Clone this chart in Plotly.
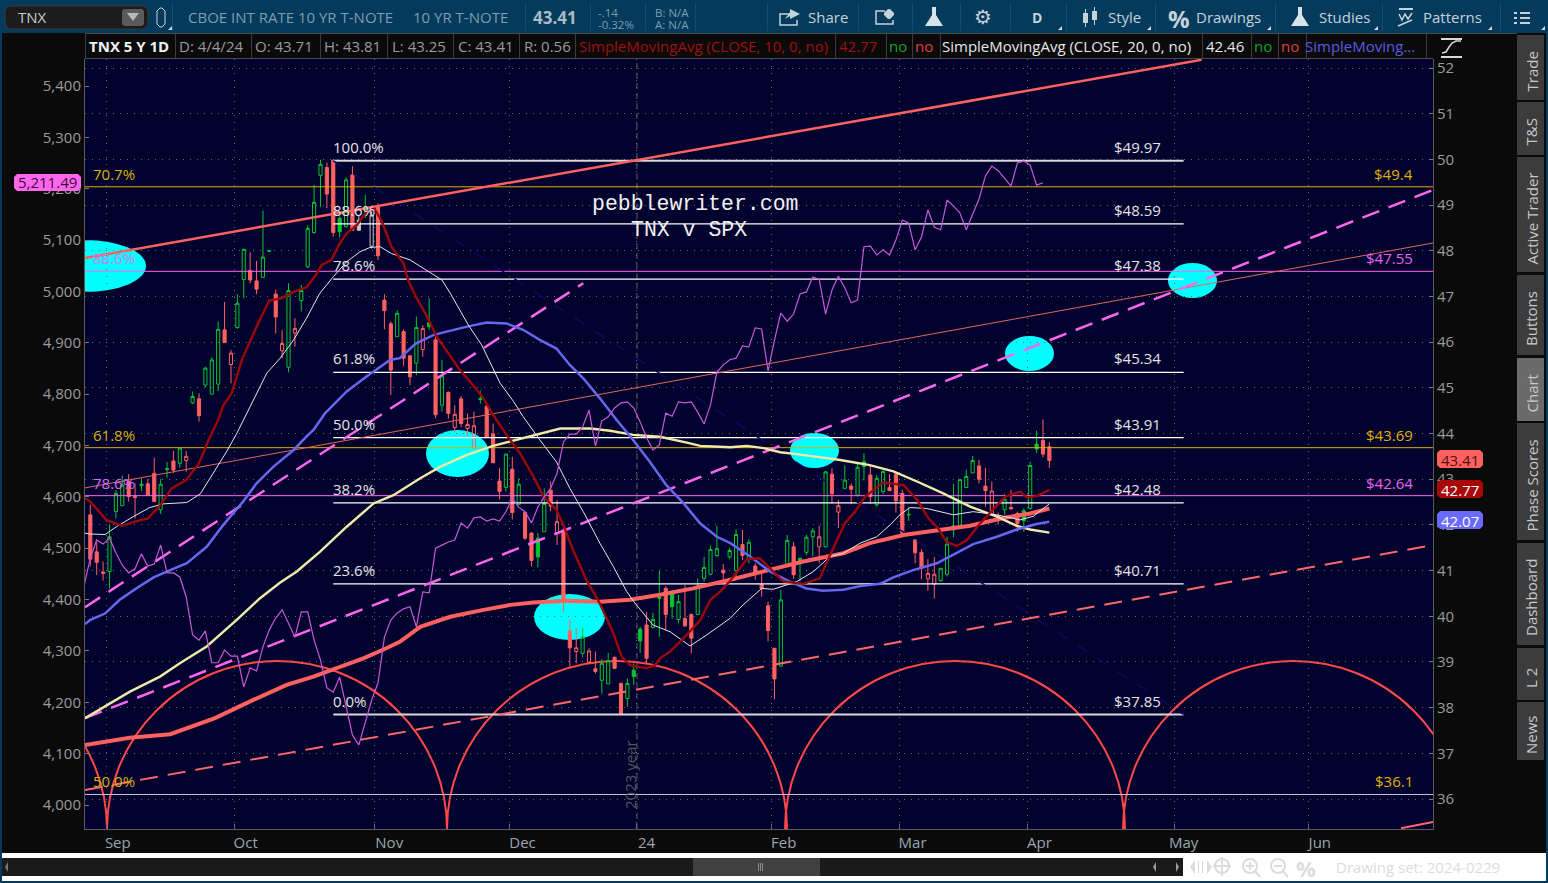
import plotly.graph_objects as go

# ---------- chart data ----------
symbol = "TNX"
month_first_bar = [3, 23, 45, 66, 86, 107, 127, 147, 170, 191]
month_label_bar = [4.3, 24.3, 46.75, 67.6, 87.0, 108.45, 128.6, 148.45, 171.0, 192.3]
month_labels = ["Sep", "Oct", "Nov", "Dec", "24", "Feb", "Mar", "Apr", "May", "Jun"]
tnx_ticks = list(range(36, 53))
spx_ticks = list(range(4000, 5401, 100))

opens = [42.22,41.41,40.97,40.98,42.29,42.42,42.95,42.62,42.86,42.90,43.13,42.33,43.21,43.40,43.35,43.41,
 44.67,44.76,45.06,44.86,45.08,46.27,45.51,46.32,47.37,47.57,47.34,47.42,47.99,47.05,45.81,45.45,46.20,46.91,
 47.65,48.40,49.65,49.82,49.98,48.71,48.53,49.66,48.67,48.96,48.10,48.95,46.92,46.40,46.12,46.23,
 45.70,45.54,45.84,46.43,46.05,44.62,44.90,44.13,44.76,44.11,43.68,44.76,44.60,43.99,42.96,42.82,43.22,42.45,
 42.27,41.82,41.71,41.85,42.76,41.82,41.89,39.68,39.23,39.19,38.99,38.85,38.60,38.52,39.10,38.53,38.20,38.82,
 39.72,39.81,39.75,40.39,40.61,40.49,39.93,39.95,40.04,40.04,40.83,40.92,41.33,41.01,
 41.30,41.00,41.57,41.25,41.10,40.70,40.23,39.30,38.91,41.12,41.52,41.27,41.40,41.74,41.52,41.52,43.11,42.28,
 42.80,42.85,42.65,43.38,43.09,42.44,42.73,42.82,43.11,42.69,42.23,41.67,41.40,40.82,40.70,40.78,40.92,41.89,
 41.98,42.82,43.14,43.29,42.85,42.22,42.19,42.33,42.38,42.25,42.31,42.36,43.77,43.85,43.71]
highs = [42.44,41.63,41.20,42.01,42.76,43.08,43.11,42.91,43.02,43.00,43.47,43.00,43.38,43.62,43.68,43.62,
 44.92,44.88,45.46,45.67,46.45,46.88,45.83,47.05,48.05,47.97,47.78,48.88,48.00,47.15,46.26,47.29,46.52,47.25,
 48.56,49.44,49.99,49.93,50.00,48.75,49.60,49.85,48.78,49.23,48.87,49.04,47.05,46.45,46.70,46.28,
 45.72,46.56,46.37,46.97,46.12,45.61,44.92,44.62,44.82,44.44,44.48,44.94,44.60,44.22,43.24,43.55,43.49,43.02,
 42.29,41.84,41.82,42.80,42.95,42.54,41.92,39.92,39.74,39.74,39.30,39.23,39.06,39.20,39.12,38.55,38.64,38.97,
 39.77,40.10,40.08,41.00,40.66,40.57,40.47,40.68,40.06,40.83,41.30,41.54,41.98,41.14,
 41.50,41.90,41.89,41.69,41.16,40.98,40.32,39.30,40.58,41.78,41.63,41.27,41.78,41.93,41.98,43.18,43.24,42.55,
 43.30,42.91,43.35,43.57,43.30,43.09,43.19,43.11,43.17,42.77,42.39,41.69,41.47,41.25,41.30,41.05,41.74,42.90,
 43.00,43.21,43.51,43.42,43.25,42.95,42.27,42.68,42.77,42.29,42.36,43.38,44.06,44.31,43.81]
lows = [41.09,40.90,40.78,40.61,42.14,42.42,42.51,42.14,42.74,42.65,42.51,42.24,43.03,43.14,43.25,43.16,
 44.64,44.26,45.01,44.86,44.93,45.99,45.10,46.29,46.96,47.29,47.05,47.42,47.98,46.19,45.65,45.34,45.90,46.67,
 47.62,48.37,48.96,48.93,48.31,48.29,48.51,48.45,48.45,48.71,48.05,47.80,46.28,44.84,46.12,45.48,
 45.06,45.28,45.68,46.27,44.33,44.48,44.33,44.04,44.14,43.95,43.68,44.65,43.92,43.36,42.56,42.73,42.12,42.45,
 41.67,41.09,41.07,41.85,42.30,41.56,40.10,38.90,38.97,39.10,38.97,38.75,38.31,38.52,38.84,37.85,38.02,38.50,
 39.20,38.97,39.75,39.55,39.70,39.95,39.85,39.77,39.19,40.04,40.76,40.90,41.30,40.76,
 41.25,40.87,41.23,41.16,40.80,40.43,39.45,38.18,38.90,41.12,40.82,40.76,41.34,41.31,41.16,41.52,42.47,41.93,
 42.78,42.45,42.62,42.97,42.46,42.40,42.67,42.75,42.27,41.78,42.09,41.16,40.81,40.56,40.39,40.76,40.87,41.73,
 41.97,42.82,43.13,42.91,42.40,42.22,42.01,42.22,42.35,41.85,41.85,42.34,43.57,43.48,43.25]
closes = [41.25,41.18,40.94,41.74,42.69,42.87,42.62,42.60,42.89,42.65,42.51,42.89,43.23,43.20,43.68,43.50,
 44.81,44.39,45.43,45.61,46.28,45.99,45.76,46.85,48.03,47.36,47.16,47.86,48.00,46.55,45.97,47.13,46.30,47.13,
 48.49,49.06,49.89,49.24,48.40,48.42,49.55,48.45,48.45,48.90,48.78,47.89,46.69,45.39,46.63,45.65,
 45.24,46.32,46.30,46.34,44.41,45.26,44.44,44.42,44.22,44.20,44.17,44.75,43.92,43.36,42.73,43.55,42.27,42.89,
 41.71,41.22,41.30,42.47,42.41,42.07,40.36,39.31,39.31,39.55,39.24,38.79,38.97,39.03,38.86,37.87,38.53,38.68,
 39.46,39.08,39.93,40.41,40.04,40.21,40.32,39.79,39.52,40.67,41.07,41.46,41.48,40.95,
 41.44,41.79,41.33,41.62,40.94,40.60,39.69,38.63,40.36,41.66,40.91,41.15,41.73,41.87,41.74,43.16,42.68,42.42,
 42.98,42.78,43.26,43.28,42.62,43.02,43.17,42.75,42.53,41.82,42.22,41.39,41.05,40.94,40.92,41.05,41.58,41.98,
 42.99,43.06,43.41,43.00,42.75,42.74,42.17,42.56,42.35,42.03,42.09,43.30,43.66,43.55,43.41]
# bars whose body style is the other way round (red hollow / green filled), and unchanged-close bars
reverse_bars = [15,22,30,32,39,43,52,53,57,59,60,61,70,73,76,78,85,86,91,111,114,117,121,128,131,132,141,146,148]
flat_bars = [42,44]

sma10_bar = [-0.83,0,2.5,5,7,9,11,12.7,15,17,18.5,20,20.8,22.1,23.8,25.1,26.5,28,29.9,31.8,33.8,35.1,36.2,37.7,39,40.1,41.7,43,44.5,45.6,47.1,49,49.7,50.9,52.4,54.2,56.3,57.6,59.6,61.5,63,65.1,67.2,69.3,70.9,72.9,73.9,75.5,77.6,79.7,81.8,83.1,84.4,87,88.3,89.1,90.7,92.8,95.4,97,98.5,100,101,102.7,104.7,106.6,108.4,111.5,114.1,115.7,118,119.6,121.2,124,127.2,129.3,131.1,132.6,133.9,135.5,137.1,139.2,141.3,143.1,145.4,146.5,148,150]
sma10_val = [42.58,42.51,42.11,41.98,42.07,42.14,42.44,42.80,42.98,43.35,43.86,44.30,44.62,44.88,45.65,46.05,46.49,46.91,46.96,47.10,47.20,47.43,47.69,47.80,48.16,48.38,48.56,48.82,48.91,48.64,48.09,47.72,47.36,47.00,46.63,46.12,45.68,45.43,45.10,44.77,44.41,43.97,43.57,43.06,42.62,42.33,42.03,41.45,40.79,40.28,39.63,39.12,38.93,38.86,38.93,39.08,39.23,39.52,39.92,40.36,40.54,40.76,40.94,41.25,41.27,41.01,40.76,40.71,40.83,41.34,42.03,42.29,42.62,42.93,42.87,42.55,42.14,41.93,41.63,41.54,41.67,42.04,42.36,42.62,42.73,42.60,42.63,42.77]

sma20_bar = [-0.83,0,2.3,4.1,6.7,9.3,11.4,15.1,17.2,19.2,21.3,22.9,24.5,26,27.6,29.7,31.8,33.8,35.9,38,40.1,42.2,43.7,45.3,47.1,50,55,56.3,59.1,61.2,63,64.1,66.2,67.7,70.3,72.9,75,77.1,79.7,81.8,83.9,85,88,90.7,93.8,96.4,100.1,102.1,105,106.8,110.5,113.1,115.7,117.8,120.4,123,125.1,126.6,128.2,130.8,135,138.1,141.8,145.4,147.5,150]
sma20_val = [41.82,41.80,41.79,41.96,42.18,42.38,42.46,42.49,42.68,43.13,43.60,44.00,44.44,44.88,45.32,45.65,46.05,46.52,47.07,47.43,47.76,47.98,48.07,48.09,47.94,47.80,47.36,47.07,46.38,45.94,45.43,45.10,44.70,44.37,43.86,43.38,42.80,42.29,41.60,41.09,40.54,40.32,39.81,39.66,39.35,39.59,39.96,40.25,40.61,40.59,40.76,40.98,41.31,41.38,41.60,41.74,42.00,42.22,42.38,42.36,42.22,42.29,42.22,42.11,42.19,42.46]

sma50_bar = [-0.83,0,2.3,4.6,7.2,9.9,12.5,15.1,18.2,20.8,23.9,26,28.6,31.8,33.8,34.9,36.7,40.1,43.2,46.9,48.4,50.9,53.7,56.3,58.9,62,65.1,67.7,70.3,72.9,75,77.1,79.7,82.3,84.9,87.5,90.1,92.8,95.4,98,100.1,103.2,106.3,109.4,112,114.6,117.8,120.4,123.5,125.6,128.7,132.4,135.5,138.1,141.8,144.9,148,150]
sma50_val = [39.83,39.92,40.06,40.36,40.61,40.85,41.01,41.16,41.52,42.00,42.51,42.91,43.27,43.64,43.93,44.08,44.44,44.92,45.25,45.61,45.65,45.97,46.16,46.25,46.34,46.43,46.41,46.27,46.05,45.86,45.50,45.21,44.77,44.30,43.86,43.38,42.87,42.47,42.03,41.74,41.60,41.31,40.98,40.76,40.61,40.56,40.58,40.66,40.71,40.85,41.01,41.16,41.38,41.58,41.74,41.90,42.02,42.07]

sma100_bar = [-0.83,0,6.2,10.9,14,18.2,22.9,26.5,29.7,32.3,35.9,40.1,44.3,47.4,51.6,54.7,58.9,63,66.7,69.8,73.5,78.2,81.3,84.9,89.1,93.3,95.4,100.1,102.7,105.3,107.9,110.5,113.6,117.3,121.9,125.6,129.3,133.4,137.6,141.8,144.9,147,150]
sma100_val = [37.77,37.84,38.35,38.68,38.97,39.34,39.92,40.39,40.74,40.98,41.41,41.96,42.47,42.65,43.02,43.27,43.53,43.73,43.86,43.97,44.11,44.11,44.06,43.97,43.93,43.80,43.73,43.70,43.73,43.68,43.59,43.55,43.49,43.42,43.31,43.17,42.95,42.69,42.40,42.18,41.98,41.90,41.83]

sma200_bar = [-0.83,0,6.2,12.5,19.5,25.5,30.7,34.9,38,42.7,46.3,48.4,51.6,56.3,61.5,65.7,69.3,74.5,79.7,84.4,89.1,94.3,100.1,106.3,111.5,117.8,121.9,127.2,132.4,137.6,142.8,147,150]
sma200_val = [37.18,37.20,37.34,37.42,37.77,38.17,38.50,38.68,38.83,39.08,39.30,39.44,39.77,39.99,40.14,40.25,40.30,40.34,40.32,40.36,40.47,40.61,40.80,41.01,41.20,41.38,41.60,41.78,41.88,41.98,42.15,42.25,42.36]

spx_close = [4425,4481,4516,4508,4520,4491,4467,4452,4460,4489,4465,4469,4506,4452,4452,4444,4405,4331,4321,4339,4277,4277,4302,4290,4290,4230,4267,4261,4308,4341,4364,4380,4354,4327,4376,4376,4321,4282,4228,4220,4249,4193,4136,4117,4162,4204,4238,4327,4360,4374,4382,
 4386,4347,4415,4413,4500,4506,4512,4516,4549,4539,4559,4561,4553,4557,4553,4571,4598,4580,4571,4549,4580,4600,4617,4646,4707,4722,4722,4736,4769,4699,4748,4756,4773,4783,4785,4773,4746,4715,4691,4701,4763,4757,4785,4783,4785,4765,4742,4779,4843,4857,
 4867,4870,4894,4892,4929,4927,4845,4905,4958,4942,4956,4995,4999,5028,5024,4956,5003,5030,5007,4978,4983,5087,5088,5071,5081,5071,5100,5139,5133,5081,5106,5159,5125,5120,5178,5166,5153,5120,5149,5180,5225,5244,5235,5221,5205,5250,5254,5246,5207,5211.49]

fib_pct = ["100.0%", "88.6%", "78.6%", "61.8%", "50.0%", "38.2%", "23.6%", "0.0%"]
fib_level = [49.97, 48.59, 47.38, 45.34, 43.91, 42.48, 40.71, 37.85]

target_level = [49.4, 47.55, 43.69, 42.64, 36.1]
target_pct = ["70.7%", "88.6%", "61.8%", "78.6%", "50.0%"]
target_text = ["$49.4", "$47.55", "$43.69", "$42.64", "$36.1"]

trend_bars = [-0.83, 210]
trend_thin = [42.81, 48.17]
trend_up_bars = [-0.83, 173.8]
trend_up = [47.84, 52.18]
dash_upper_bars = [-0.83, 77.1]
dash_upper = [40.20, 47.29]
dash_lower = [37.77, 49.33]
dash_floor = [36.20, 41.56]
dash_corner_bars = [205, 210]
dash_corner = [35.36, 35.50]
diag_bars = [38, 171]
diag_vals = [49.97, 37.85]

# ---------- page geometry ----------
W, H = 1548, 883
LEFT, RIGHT, TOP, BOTTOM = 85, 1433, 59, 829
X_RANGE = [-0.83, 210]
Y_TOP, Y_BOT = 52 - (TOP - 68) / 45.69, 52 - (BOTTOM - 68) / 45.69
S_TOP, S_BOT = 5400 + (86 - TOP) / 0.51357, 4000 - (BOTTOM - 805) / 0.51357

def fx(x): return x / W
def fy(y): return 1 - y / H
def bar_at(px): return X_RANGE[0] + (px - LEFT) * (X_RANGE[1] - X_RANGE[0]) / (RIGHT - LEFT)
def tnx_at(py): return 52 - (py - 68) / 45.69

shapes, notes = [], []

def rect(x0, y0, x1, y1, fill, line=None, layer="below", lw=1):
    shapes.append(dict(type="rect", xref="paper", yref="paper", x0=fx(x0), x1=fx(x1), y0=fy(y1), y1=fy(y0),
                       fillcolor=fill, line=dict(color=line or fill, width=lw if line else 0), layer=layer))

def poly(points, fill=None, line=None, lw=1.5, close=True, layer="above"):
    d = "M" + " L".join(f"{fx(a):.5f} {fy(b):.5f}" for a, b in points) + (" Z" if close else "")
    shapes.append(dict(type="path", xref="paper", yref="paper", path=d, fillcolor=fill or "rgba(0,0,0,0)",
                       line=dict(color=line or "rgba(0,0,0,0)", width=lw if line else 0), layer=layer))

def rrect(x0, y0, x1, y1, r, fill, line=None, layer="above"):
    pts = [(x0 + r, y0), (x1 - r, y0), (x1, y0 + r), (x1, y1 - r), (x1 - r, y1), (x0 + r, y1), (x0, y1 - r), (x0, y0 + r)]
    poly(pts, fill=fill, line=line, lw=1, layer=layer)

def text(x, y, s, color="#a0a0a0", size=15, anchor="left", bold=False, font="Open Sans", angle=0, bg=None):
    notes.append(dict(xref="paper", yref="paper", x=fx(x), y=fy(y), text=f"<b>{s}</b>" if bold else s, showarrow=False,
                      xanchor=anchor, yanchor="middle", textangle=angle, borderpad=0,
                      font=dict(family=font, size=size, color=color), bgcolor=bg))

# ---------- window chrome ----------
BAR = "#043a5c"
DARK = "#0a0a0a"
rect(0, 0, W, 33, BAR)
rect(0, 33, 2, H, BAR)
rect(1546, 0, W, H, BAR)
rect(0, 880, W, H, BAR)
rect(2, 34, 1517, 59, DARK, layer="below")
rect(2, 853, 1546, 881, "#ffffff")
rect(2, 858, 1183, 876, "#1a1a1a")
rect(693, 858, 820, 876, "#404040")
for xa in (758, 760, 762):
    rect(xa, 863, xa + 1, 871, "#8a8a8a")
poly([(5, 867), (8, 862), (8, 872)], fill="#777777")
poly([(1153, 867), (1156, 862), (1156, 872)], fill="#9a9a9a")
poly([(1176, 862), (1179, 867), (1176, 872)], fill="#9a9a9a")

# combo box
rrect(5, 6, 148, 29, 4, "#1c1c1c", "#3a3a3a")
rrect(122, 9, 144, 26, 2, "#5a5a5a")
poly([(127, 13), (139, 13), (133, 21)], fill="#b8b8b8")
text(17, 17.5, symbol, color="#c8c8c8")
rrect(157, 8, 165, 27, 3, "rgba(0,0,0,0)", "#c8d4dc")
for xd in (172, 525, 590, 645, 695, 767, 858, 912, 960, 1010, 1066, 1155, 1275, 1382, 1500):
    rect(xd, 3, xd + 1, 31, "#0e4f78")
text(187, 17.5, "CBOE INT RATE 10 YR T-NOTE", color="#7e9db0")
text(412, 17.5, "10 YR T-NOTE", color="#7e9db0")
text(532, 17.5, "43.41", color="#a9bcc6", size=17, bold=True)
text(597, 12, "-.14", color="#7e9db0", size=11.5)
text(597, 24, "-0.32%", color="#7e9db0", size=11.5)
text(654, 12, "B: N/A", color="#7e9db0", size=11.5)
text(654, 24, "A: N/A", color="#7e9db0", size=11.5)

TOOL = "#c4d2da"
text(807, 17.5, "Share", color=TOOL)
text(1107, 17.5, "Style", color=TOOL)
text(1195, 17.5, "Drawings", color=TOOL)
text(1318, 17.5, "Studies", color=TOOL)
text(1422, 17.5, "Patterns", color=TOOL)
text(1037, 17.5, "D", color=TOOL, size=14, anchor="center", bold=True)
text(1179, 18, "%", color=TOOL, size=24, anchor="center", bold=True)
text(983, 17, "\u2699", color=TOOL, size=20, anchor="center", font="DejaVu Sans")
# share icon
poly([(792, 14), (780, 14), (780, 25), (797, 25), (797, 20)], line=TOOL, close=False)
poly([(785, 19), (790, 12), (790, 9), (800, 14), (790, 19), (790, 16)], fill=TOOL)
# info icon
poly([(885, 11), (876, 11), (876, 24), (893, 24), (893, 20)], line=TOOL, close=False)
rrect(884, 9, 894, 19, 4, TOOL)
# flasks
for cx, fillc in ((934, "#d8e2e8"), (1300, "#d8e2e8")):
    poly([(cx - 2, 7), (cx + 2, 7), (cx + 2, 15), (cx + 9, 26), (cx - 9, 26), (cx - 2, 15)], fill=fillc)
# style icon
rect(1083, 13, 1088, 23, TOOL, layer="above"); rect(1085, 9, 1086, 27, TOOL, layer="above")
rect(1092, 11, 1097, 20, TOOL, layer="above"); rect(1094, 7, 1095, 25, TOOL, layer="above")
# patterns icon
rect(1399, 8, 1413, 10, TOOL, layer="above")
poly([(1399, 14), (1402, 20), (1405, 14), (1408, 19), (1412, 13)], line=TOOL, close=False)
poly([(1398, 26), (1412, 20)], line=TOOL, close=False)
# menu icon
for yy in (12, 17, 22):
    rect(1514, yy, 1517, yy + 2, TOOL, layer="above")
    rect(1520, yy, 1530, yy + 2, TOOL, layer="above")
for xc in (1062, 1151, 1271, 1378, 1492, 1545):
    poly([(xc - 4, 30), (xc, 30), (xc, 26)], fill="#d0dbe2")
poly([(172, 30), (168, 30), (172, 26)], fill="#d0dbe2")

# study legend row
rect(85, 33, 1517, 34, "#4a4a4a")
rect(85, 58, 1433, 59, "#4a4a4a")
for xd in (85, 175, 251, 320, 387, 453, 519, 575, 835, 886, 912, 940, 1202, 1251, 1278, 1306, 1426):
    rect(xd, 34, xd + 1, 58, "#3c3c3c")
text(88, 46, "TNX 5 Y 1D", color="#f0f0f0", bold=True)
for xt, s in ((178, "D: 4/4/24"), (254, "O: 43.71"), (323, "H: 43.81"), (391, "L: 43.25"), (457, "C: 43.41"), (523, "R: 0.56")):
    text(xt, 46, s, color="#9a9a9a")
text(578, 46, "SimpleMovingAvg (CLOSE, 10, 0, no)", color="#a01010")
text(838, 46, "42.77", color="#a01010")
text(888, 46, "no", color="#10a030")
text(914, 46, "no", color="#e04040")
text(941, 46, "SimpleMovingAvg (CLOSE, 20, 0, no)", color="#e8e8e8")
text(1205, 46, "42.46", color="#e8e8e8")
text(1253, 46, "no", color="#10a030")
text(1280, 46, "no", color="#e04040")
text(1304, 46, "SimpleMoving...", color="#5a5ae0")
rect(1441, 38, 1462, 40, "#d8d8d8", layer="above")
rect(1441, 56, 1462, 58, "#d8d8d8", layer="above")
poly([(1442, 53), (1446, 52), (1449, 47), (1452, 43), (1456, 41), (1461, 41)], line="#d8d8d8", close=False)

# side tabs
for (y0, y1, label, on) in ((35, 100, "Trade", 0), (102, 155, "T&S", 0), (157, 272, "Active Trader", 0),
                            (275, 355, "Buttons", 0), (358, 421, "Chart", 1), (423, 540, "Phase Scores", 0),
                            (543, 645, "Dashboard", 0), (648, 700, "L 2", 0), (702, 760, "News", 0)):
    rect(1517, y0, 1544, y1, "#6a6a6a" if on else "#3c3c3c")
    text(1531, (y0 + y1) / 2 + 4, label, color="#c8c8c8", anchor="center", angle=-90)

# bottom tools
text(1335, 867, "Drawing set: 2024-0229", color="#dcdcdc")
ICON = "#dcdcdc"
poly([(1190, 867), (1195, 860), (1195, 874)], fill=ICON)
poly([(1212, 867), (1207, 860), (1207, 874)], fill=ICON)
rect(1198, 861, 1199, 873, ICON, layer="above")
rect(1202, 861, 1203, 873, ICON, layer="above")
for cx in (1222, 1250, 1278):
    shapes.append(dict(type="circle", xref="paper", yref="paper", x0=fx(cx - 7), x1=fx(cx + 7), y0=fy(873), y1=fy(859),
                       line=dict(color=ICON, width=2), layer="above"))
rect(1213, 865, 1231, 867, ICON, layer="above")
rect(1221, 857, 1223, 876, ICON, layer="above")
for cx in (1250, 1278):
    poly([(cx + 5, 871), (cx + 10, 877)], line=ICON, lw=2, close=False)
    rect(cx - 4, 865, cx + 4, 867, ICON, layer="above")
rect(1249, 862, 1251, 870, ICON, layer="above")
text(1306, 868, "%", color=ICON, size=22, anchor="center", bold=True)

# ---------- drawings on the price scale ----------
def data_ellipse(x0, y0, x1, y1, line=None, fill=None, lw=0):
    shapes.append(dict(type="circle", xref="x", yref="y", x0=bar_at(x0), x1=bar_at(x1), y0=tnx_at(y1), y1=tnx_at(y0),
                       fillcolor=fill or "rgba(0,0,0,0)", line=dict(color=line or "rgba(0,0,0,0)", width=lw), layer="below"))

for box in ((24, 240, 146, 292), (426, 430, 489, 477), (534, 594, 605, 640),
            (790, 433, 839, 468), (1005, 336, 1054, 371), (1168, 263, 1217, 298)):
    data_ellipse(*box, fill="#00ffff")
for cx in (-63, 277, 617, 955, 1293):
    data_ellipse(cx - 170, 661, cx + 170, 997, line="#ff4848", lw=2)

shapes.append(dict(type="line", xref="x", yref="paper", x0=85.5, x1=85.5, y0=fy(BOTTOM), y1=fy(TOP),
                   line=dict(color="#5c5c66", width=1, dash="6px,4px"), layer="below"))
notes.append(dict(xref="x", yref="paper", x=bar_at(630), y=fy(775), text="2023 year", showarrow=False, textangle=-90,
                  xanchor="center", yanchor="middle", borderpad=0, font=dict(family="Open Sans", size=15, color="#55555f")))

fib_label_bar = bar_at(332)
fib_price_bar = bar_at(1113)
for pct, lvl in zip(fib_pct, fib_level):
    notes.append(dict(xref="x", yref="y", x=fib_label_bar, y=lvl, yshift=14, text=pct, showarrow=False, xanchor="left",
                      yanchor="middle", borderpad=0, font=dict(family="Open Sans", size=15, color="#e4e4e4")))
    notes.append(dict(xref="x", yref="y", x=fib_price_bar, y=lvl, yshift=14, text=f"${lvl:.2f}", showarrow=False, xanchor="left",
                      yanchor="middle", borderpad=0, font=dict(family="Open Sans", size=15, color="#e4e4e4")))

target_colors = ["#e0b000", "#e864f0", "#e0b000", "#e864f0", "#e0b000"]
target_left_colors = ["#d8b000", "#d080f0", "#d8b000", "#d070f0", "#d8b000"]
left_label_bar = bar_at(92)
right_label_bar = bar_at(1414)
for lvl, pct, price, c, lc in zip(target_level, target_pct, target_text, target_colors, target_left_colors):
    notes.append(dict(xref="x", yref="y", x=left_label_bar, y=lvl, yshift=13, text=pct, showarrow=False, xanchor="left",
                      yanchor="middle", borderpad=0, font=dict(family="Open Sans", size=15, color=lc)))
    notes.append(dict(xref="x", yref="y", x=right_label_bar, y=lvl, yshift=13, text=price, showarrow=False, xanchor="right",
                      yanchor="middle", borderpad=0, font=dict(family="Open Sans", size=15, color=c)))

text(695, 204, "pebblewriter.com", color="#f0f0f0", size=21.5, anchor="center", font="Liberation Mono")
text(689, 230, "TNX v SPX", color="#f0f0f0", size=21.5, anchor="center", font="Liberation Mono")

# badges
rrect(14, 174, 81, 191, 3, "#ff66ee")
text(47.5, 182.5, "5,211.49", color="#3a0a3a", anchor="center")
rrect(1437, 450, 1483, 468, 3, "#ff6060")
text(1460, 459.5, "43.41", color="#501010", anchor="center")
rrect(1437, 480, 1483, 498, 3, "#a80808")
text(1460, 489.5, "42.77", color="#ffffff", anchor="center")
rrect(1437, 511, 1483, 529, 3, "#6a6aff")
text(1460, 520.5, "42.07", color="#ffffff", anchor="center")

# ---------- traces ----------
fig = go.Figure()
n = len(closes)
bars = list(range(n))
normal = [i for i in bars if i not in reverse_bars and i not in flat_bars]
GREEN, RED, GREY = "#04c62c", "#ff6060", "#c8c8c8"
CLEAR = "rgba(0,0,0,0)"

def candles(idx, up_line, up_fill, down_line, down_fill):
    fig.add_trace(go.Candlestick(
        x=idx, open=[opens[i] for i in idx], high=[highs[i] for i in idx], low=[lows[i] for i in idx], close=[closes[i] for i in idx],
        increasing=dict(line=dict(color=up_line, width=1), fillcolor=up_fill),
        decreasing=dict(line=dict(color=down_line, width=1), fillcolor=down_fill),
        whiskerwidth=0, hoverinfo="skip", showlegend=False, xaxis="x", yaxis="y"))

candles(normal, GREEN, CLEAR, RED, RED)
candles(reverse_bars, RED, CLEAR, GREEN, GREEN)
candles(flat_bars, GREY, CLEAR, GREY, GREY)

def line(x, y, color, width, dash=None, axis="y"):
    fig.add_trace(go.Scatter(x=x, y=y, mode="lines", line=dict(color=color, width=width, dash=dash), hoverinfo="skip",
                             showlegend=False, xaxis="x", yaxis=axis))

fib_right = 171
fib_left = 38
for lvl, pct in zip(fib_level, fib_pct):
    wide = pct in ("100.0%", "0.0%")
    line([fib_left, fib_right], [lvl, lvl], "#d8d8d8" if wide else "#ffffff", 2 if wide else 1.2)
target_line_colors = ["#e0b000", "#ff66ee", "#e0b000", "#ff66ee", "#c4c4dc"]
for lvl, c in zip(target_level, target_line_colors):
    line(X_RANGE, [lvl, lvl], c, 1)
line(diag_bars, diag_vals, "#0a0a60", 1.5, "12px,12px")
line(trend_bars, trend_thin, "#e06858", 1)
line(trend_up_bars, trend_up, "#ff6060", 2.5)
line(dash_upper_bars, dash_upper, "#ff66ee", 2.5, "18px,10px")
line(trend_bars, dash_lower, "#ff66ee", 2.5, "18px,10px")
line(trend_bars, dash_floor, "#ff6868", 2, "18px,10px")
line(dash_corner_bars, dash_corner, "#ff6868", 2)
line(sma200_bar, sma200_val, "#ff6060", 4)
line(sma100_bar, sma100_val, "#f0eaa8", 2.4)
line(sma50_bar, sma50_val, "#6666ee", 2.5)
line(sma20_bar, sma20_val, "#e8e8e8", 1)
line(sma10_bar, sma10_val, "#9c0808", 2.4)
line(list(range(-1, len(spx_close) - 1)), spx_close, "#c858d8", 1.2, axis="y2")

GRID = "#6a6a5a"
fig.update_layout(
    width=W, height=H, autosize=False, margin=dict(l=0, r=0, t=0, b=0, pad=0, autoexpand=False),
    paper_bgcolor=DARK, plot_bgcolor="#02022e", showlegend=False, shapes=shapes, annotations=notes,
    font=dict(family="Open Sans", size=15, color="#a0a0a0"),
    xaxis=dict(domain=[fx(LEFT), fx(RIGHT)], range=X_RANGE, rangeslider=dict(visible=False), showgrid=False, zeroline=False,
               tickmode="array", tickvals=month_label_bar, ticktext=month_labels, ticks="", ticklen=0,
               tickfont=dict(family="Open Sans", size=15, color="#9aa6ae"), showline=True, linecolor="#5a5a5a", linewidth=1,
               anchor="y", fixedrange=True,
               minor=dict(tickmode="array", tickvals=[b - 0.5 for b in month_first_bar], ticks="inside", ticklen=5, tickcolor="#6a6a6a",
                          showgrid=True, gridcolor=GRID, griddash="1px,6px", gridwidth=1)),
    yaxis=dict(domain=[fy(BOTTOM), fy(TOP)], range=[Y_BOT, Y_TOP], side="right", anchor="x", tickmode="array", tickvals=tnx_ticks,
               ticks="inside", ticklen=4, tickcolor="#7a7a7a", showgrid=True, gridcolor=GRID, griddash="1px,6px", zeroline=False,
               showline=True, linecolor="#5a5a5a", linewidth=1, tickfont=dict(family="Open Sans", size=15, color="#9a9a9a"), fixedrange=True),
    yaxis2=dict(domain=[fy(BOTTOM), fy(TOP)], range=[S_BOT, S_TOP], side="left", overlaying="y", anchor="x", tickmode="array",
                tickvals=spx_ticks, tickformat=",d", ticks="inside", ticklen=4, tickcolor="#7a7a7a", showgrid=False, zeroline=False,
                showline=True, linecolor="#5a5a5a", linewidth=1, tickfont=dict(family="Open Sans", size=15, color="#9a9a9a"), fixedrange=True),
)

fig.write_html("out.html", config=dict(displayModeBar=False),
               post_script="document.body.style.margin='0';document.body.style.overflow='hidden';")
